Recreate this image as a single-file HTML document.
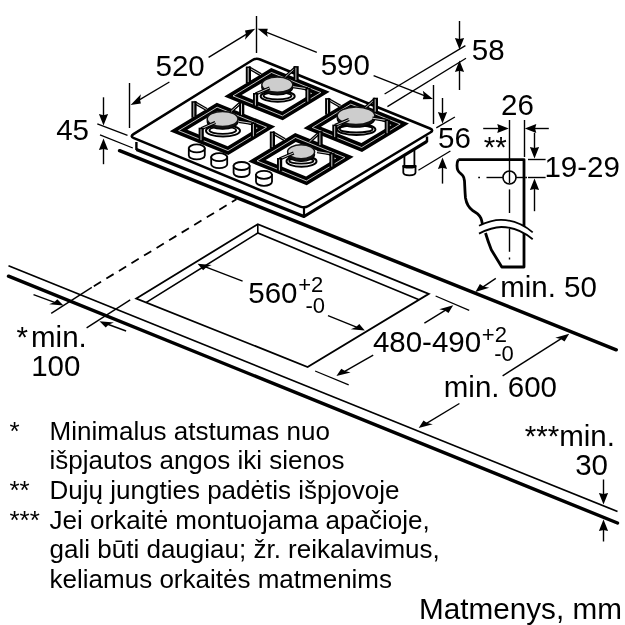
<!DOCTYPE html>
<html><head><meta charset="utf-8"><style>
html,body{margin:0;padding:0;background:#fff;}
svg{display:block;}
text{font-family:"Liberation Sans",sans-serif;fill:#000;}
body{-webkit-font-smoothing:antialiased;}
</style></head><body>
<svg style="will-change:transform" width="625" height="625" viewBox="0 0 625 625" stroke="#000" stroke-linecap="butt">
<rect width="625" height="625" fill="#fff" stroke="none"/>
<line x1="8.5" y1="265.8" x2="617.5" y2="511.5" stroke-width="1.7" />
<line x1="8.5" y1="276.2" x2="617.5" y2="523.0" stroke-width="3.4" stroke-linecap="round"/>
<line x1="119.6" y1="150.7" x2="616.2" y2="349.8" stroke-width="3.5" stroke-linecap="round"/>
<path d="M136.3,298.5 L257.8,224.2 L428.8,293.8 L307.6,367.0 Z" fill="none" stroke-width="1.8" />
<path d="M146.3,302.4 L257.8,233.0 L418.5,299.5" fill="none" stroke-width="1.6" />
<line x1="257.8" y1="224.2" x2="257.8" y2="233.0" stroke-width="1.6" />
<line x1="93.8" y1="286.2" x2="236.5" y2="199.2" stroke-width="1.8" stroke-dasharray="8.5 6.2"/>
<line x1="91.8" y1="287.3" x2="51.2" y2="313.3" stroke-width="1.4" />
<line x1="130.2" y1="299.8" x2="86.6" y2="327.8" stroke-width="1.4" />
<line x1="33.5" y1="294.6" x2="57.3" y2="303.3" stroke-width="1.4" />
<path d="M63.5,305.6 L57.3,299.3 L54.2,302.2 L49.1,304.3 Z" fill="#000" stroke="none"/>
<line x1="126.1" y1="331.0" x2="105.7" y2="323.5" stroke-width="1.4" />
<path d="M99.5,321.2 L113.9,322.5 L108.8,324.6 L105.7,327.5 Z" fill="#000" stroke="none"/>
<rect x="404.4" y="148" width="10" height="18" fill="#fff" stroke-width="1.8"/>
<path d="M403.3,166 L403.3,172.6 A6.1,2.8 0 0 0 415.5,172.6 L415.5,166 Z" fill="#fff" stroke-width="1.8"/>
<path d="M403.3,166 A6.1,1.6 0 0 0 415.5,166" fill="none" stroke-width="2"/>
<path d="M131,139 L304,206 L430,134 L427,141.4 L304,216.5 L136.4,149.6 Z" fill="#fff" stroke="none"/>
<path d="M136.4,149.6 L304.0,216.5 L427.0,141.4" fill="none" stroke-width="3.2" stroke-linejoin="round"/>
<line x1="136.4" y1="142.0" x2="136.4" y2="150.0" stroke-width="2.4" />
<line x1="427.0" y1="136.5" x2="427.0" y2="142.0" stroke-width="2.4" />
<line x1="304.0" y1="208.0" x2="304.0" y2="216.5" stroke-width="2.2" />
<path d="M133.9,138.2 Q129.7,136.5 133.5,134.1 L252.2,60.2 Q256.0,57.8 260.2,59.5 L430.0,128.5 Q434.2,130.2 430.3,132.5 L308.4,206.0 Q304.5,208.3 300.3,206.6 Z" fill="#fff" stroke-width="2.5" stroke-linejoin="round"/>
<path d="M169.8,131.3 L216.8,102.8 L275.3,126.5 L228.3,155.0 Z M187.3,129.8 L217.4,111.6 L257.8,128.0 L227.7,146.2 Z" fill="#000" fill-rule="evenodd" stroke="none"/>
<path d="M178.6,130.6 L217.1,107.2 L266.5,127.2 L228.0,150.6 Z" fill="none" stroke-width="0.75" stroke="#fff"/>
<line x1="194.0" y1="102.2" x2="206.5" y2="109.4" stroke-width="3.3"/>
<line x1="194.0" y1="102.2" x2="206.5" y2="109.4" stroke="#fff" stroke-width="0.8"/>
<rect x="191.4" y="101.2" width="5.2" height="16.6" fill="#000" stroke="none"/>
<line x1="193.8" y1="102.7" x2="193.8" y2="116.8" stroke="#fff" stroke-width="0.8"/>
<line x1="241.7" y1="101.8" x2="231.1" y2="111.4" stroke-width="3.3"/>
<line x1="241.7" y1="101.8" x2="231.1" y2="111.4" stroke="#fff" stroke-width="0.8"/>
<rect x="239.1" y="100.8" width="5.2" height="15.0" fill="#000" stroke="none"/>
<line x1="241.5" y1="102.3" x2="241.5" y2="114.8" stroke="#fff" stroke-width="0.8"/>
<path d="M224.2,96.6 L271.2,68.1 L329.7,91.8 L282.7,120.3 Z M241.7,95.1 L271.8,76.9 L312.2,93.3 L282.1,111.5 Z" fill="#000" fill-rule="evenodd" stroke="none"/>
<path d="M233.0,95.9 L271.5,72.5 L320.9,92.5 L282.4,115.9 Z" fill="none" stroke-width="0.75" stroke="#fff"/>
<line x1="248.4" y1="67.5" x2="260.9" y2="74.7" stroke-width="3.3"/>
<line x1="248.4" y1="67.5" x2="260.9" y2="74.7" stroke="#fff" stroke-width="0.8"/>
<rect x="245.8" y="66.5" width="5.2" height="16.6" fill="#000" stroke="none"/>
<line x1="248.2" y1="68.0" x2="248.2" y2="82.1" stroke="#fff" stroke-width="0.8"/>
<line x1="296.1" y1="67.1" x2="285.5" y2="76.7" stroke-width="3.3"/>
<line x1="296.1" y1="67.1" x2="285.5" y2="76.7" stroke="#fff" stroke-width="0.8"/>
<rect x="293.5" y="66.1" width="5.2" height="15.0" fill="#000" stroke="none"/>
<line x1="295.9" y1="67.6" x2="295.9" y2="80.1" stroke="#fff" stroke-width="0.8"/>
<path d="M303.5,128.2 L350.5,99.7 L409.0,123.4 L362.0,151.9 Z M321.0,126.7 L351.1,108.5 L391.5,124.9 L361.4,143.1 Z" fill="#000" fill-rule="evenodd" stroke="none"/>
<path d="M312.3,127.5 L350.8,104.1 L400.2,124.1 L361.7,147.5 Z" fill="none" stroke-width="0.75" stroke="#fff"/>
<line x1="327.7" y1="99.1" x2="340.2" y2="106.3" stroke-width="3.3"/>
<line x1="327.7" y1="99.1" x2="340.2" y2="106.3" stroke="#fff" stroke-width="0.8"/>
<rect x="325.1" y="98.1" width="5.2" height="16.6" fill="#000" stroke="none"/>
<line x1="327.5" y1="99.6" x2="327.5" y2="113.7" stroke="#fff" stroke-width="0.8"/>
<line x1="375.4" y1="98.7" x2="364.8" y2="108.3" stroke-width="3.3"/>
<line x1="375.4" y1="98.7" x2="364.8" y2="108.3" stroke="#fff" stroke-width="0.8"/>
<rect x="372.8" y="97.7" width="5.2" height="15.0" fill="#000" stroke="none"/>
<line x1="375.2" y1="99.2" x2="375.2" y2="111.7" stroke="#fff" stroke-width="0.8"/>
<path d="M248.2,161.6 L295.2,133.1 L353.7,156.8 L306.7,185.3 Z M265.7,160.1 L295.8,141.9 L336.2,158.3 L306.1,176.5 Z" fill="#000" fill-rule="evenodd" stroke="none"/>
<path d="M257.0,160.9 L295.5,137.5 L344.9,157.5 L306.4,180.9 Z" fill="none" stroke-width="0.75" stroke="#fff"/>
<line x1="272.4" y1="132.5" x2="284.9" y2="139.7" stroke-width="3.3"/>
<line x1="272.4" y1="132.5" x2="284.9" y2="139.7" stroke="#fff" stroke-width="0.8"/>
<rect x="269.8" y="131.5" width="5.2" height="16.6" fill="#000" stroke="none"/>
<line x1="272.2" y1="133.0" x2="272.2" y2="147.1" stroke="#fff" stroke-width="0.8"/>
<line x1="320.1" y1="132.1" x2="309.5" y2="141.7" stroke-width="3.3"/>
<line x1="320.1" y1="132.1" x2="309.5" y2="141.7" stroke="#fff" stroke-width="0.8"/>
<rect x="317.5" y="131.1" width="5.2" height="15.0" fill="#000" stroke="none"/>
<line x1="319.9" y1="132.6" x2="319.9" y2="145.1" stroke="#fff" stroke-width="0.8"/>
<ellipse cx="223.0" cy="130.8" rx="17" ry="5.8" fill="#fff" stroke-width="2"/>
<ellipse cx="222.8" cy="130.3" rx="13.4" ry="3.6" fill="#fff" stroke-width="1.8"/>
<ellipse cx="222.6" cy="121.6" rx="15.4" ry="7.6" fill="#111" stroke-width="1.2"/>
<ellipse cx="222.6" cy="119" rx="15.4" ry="7.6" fill="#cdcdcd" stroke="#111" stroke-width="1.5"/>
<ellipse cx="277.7" cy="96.3" rx="17" ry="5.4" fill="#fff" stroke-width="2"/>
<ellipse cx="277.5" cy="95.8" rx="14" ry="3.6" fill="#fff" stroke-width="1.8"/>
<ellipse cx="277.3" cy="87.3" rx="15.5" ry="7.6" fill="#111" stroke-width="1.2"/>
<ellipse cx="277.3" cy="84.7" rx="15.5" ry="7.6" fill="#cdcdcd" stroke="#111" stroke-width="1.5"/>
<ellipse cx="356.4" cy="129.4" rx="19" ry="5.6" fill="#fff" stroke-width="2"/>
<ellipse cx="356.2" cy="128.9" rx="16.4" ry="3.6" fill="#fff" stroke-width="1.8"/>
<ellipse cx="356" cy="118.4" rx="18.8" ry="8.8" fill="#111" stroke-width="1.2"/>
<ellipse cx="356" cy="115.8" rx="18.8" ry="8.8" fill="#cdcdcd" stroke="#111" stroke-width="1.5"/>
<ellipse cx="301.5" cy="161.3" rx="15" ry="5.4" fill="#fff" stroke-width="2"/>
<ellipse cx="301.3" cy="160.8" rx="12.2" ry="2.9" fill="#fff" stroke-width="1.8"/>
<ellipse cx="301.1" cy="154.4" rx="13.5" ry="7" fill="#111" stroke-width="1.2"/>
<ellipse cx="301.1" cy="151.8" rx="13.5" ry="7" fill="#cdcdcd" stroke="#111" stroke-width="1.5"/>
<line x1="201.2" y1="128.7" x2="215.3" y2="122.6" stroke-width="3.3"/>
<line x1="201.2" y1="128.7" x2="215.3" y2="122.6" stroke="#fff" stroke-width="0.8"/>
<rect x="198.6" y="127.7" width="5.2" height="13.5" fill="#000" stroke="none"/>
<line x1="201.0" y1="129.2" x2="201.0" y2="140.2" stroke="#fff" stroke-width="0.8"/>
<line x1="253.6" y1="123.6" x2="238.7" y2="121.3" stroke-width="3.3"/>
<line x1="253.6" y1="123.6" x2="238.7" y2="121.3" stroke="#fff" stroke-width="0.8"/>
<rect x="251.0" y="122.6" width="5.2" height="14.7" fill="#000" stroke="none"/>
<line x1="253.4" y1="124.1" x2="253.4" y2="136.3" stroke="#fff" stroke-width="0.8"/>
<line x1="255.6" y1="94.0" x2="269.7" y2="87.9" stroke-width="3.3"/>
<line x1="255.6" y1="94.0" x2="269.7" y2="87.9" stroke="#fff" stroke-width="0.8"/>
<rect x="253.0" y="93.0" width="5.2" height="13.5" fill="#000" stroke="none"/>
<line x1="255.4" y1="94.5" x2="255.4" y2="105.5" stroke="#fff" stroke-width="0.8"/>
<line x1="308.0" y1="88.9" x2="293.1" y2="86.6" stroke-width="3.3"/>
<line x1="308.0" y1="88.9" x2="293.1" y2="86.6" stroke="#fff" stroke-width="0.8"/>
<rect x="305.4" y="87.9" width="5.2" height="14.7" fill="#000" stroke="none"/>
<line x1="307.8" y1="89.4" x2="307.8" y2="101.6" stroke="#fff" stroke-width="0.8"/>
<line x1="334.9" y1="125.6" x2="349.0" y2="119.5" stroke-width="3.3"/>
<line x1="334.9" y1="125.6" x2="349.0" y2="119.5" stroke="#fff" stroke-width="0.8"/>
<rect x="332.3" y="124.6" width="5.2" height="13.5" fill="#000" stroke="none"/>
<line x1="334.7" y1="126.1" x2="334.7" y2="137.1" stroke="#fff" stroke-width="0.8"/>
<line x1="387.3" y1="120.5" x2="372.4" y2="118.2" stroke-width="3.3"/>
<line x1="387.3" y1="120.5" x2="372.4" y2="118.2" stroke="#fff" stroke-width="0.8"/>
<rect x="384.7" y="119.5" width="5.2" height="14.7" fill="#000" stroke="none"/>
<line x1="387.1" y1="121.0" x2="387.1" y2="133.2" stroke="#fff" stroke-width="0.8"/>
<line x1="279.6" y1="159.0" x2="293.7" y2="152.9" stroke-width="3.3"/>
<line x1="279.6" y1="159.0" x2="293.7" y2="152.9" stroke="#fff" stroke-width="0.8"/>
<rect x="277.0" y="158.0" width="5.2" height="13.5" fill="#000" stroke="none"/>
<line x1="279.4" y1="159.5" x2="279.4" y2="170.5" stroke="#fff" stroke-width="0.8"/>
<line x1="332.0" y1="153.9" x2="317.1" y2="151.6" stroke-width="3.3"/>
<line x1="332.0" y1="153.9" x2="317.1" y2="151.6" stroke="#fff" stroke-width="0.8"/>
<rect x="329.4" y="152.9" width="5.2" height="14.7" fill="#000" stroke="none"/>
<line x1="331.8" y1="154.4" x2="331.8" y2="166.6" stroke="#fff" stroke-width="0.8"/>
<path d="M188.8,148.4 L188.8,155.4 A8,4 0 0 0 204.8,155.4 L204.8,148.4 Z" fill="#fff" stroke-width="1.8"/>
<ellipse cx="196.8" cy="148.4" rx="8" ry="4" fill="#fff" stroke-width="1.8"/>
<path d="M211.20000000000002,157.20000000000002 L211.20000000000002,164.20000000000002 A8,4 0 0 0 227.20000000000002,164.20000000000002 L227.20000000000002,157.20000000000002 Z" fill="#fff" stroke-width="1.8"/>
<ellipse cx="219.20000000000002" cy="157.20000000000002" rx="8" ry="4" fill="#fff" stroke-width="1.8"/>
<path d="M233.60000000000002,166.0 L233.60000000000002,173.0 A8,4 0 0 0 249.60000000000002,173.0 L249.60000000000002,166.0 Z" fill="#fff" stroke-width="1.8"/>
<ellipse cx="241.60000000000002" cy="166.0" rx="8" ry="4" fill="#fff" stroke-width="1.8"/>
<path d="M256.0,174.8 L256.0,181.8 A8,4 0 0 0 272.0,181.8 L272.0,174.8 Z" fill="#fff" stroke-width="1.8"/>
<ellipse cx="264.0" cy="174.8" rx="8" ry="4" fill="#fff" stroke-width="1.8"/>
<line x1="97.3" y1="123.8" x2="127.5" y2="135.4" stroke-width="1.3" />
<line x1="100.0" y1="134.9" x2="132.8" y2="148.0" stroke-width="1.3" />
<line x1="103.5" y1="97.3" x2="103.5" y2="118.7" stroke-width="1.4" />
<path d="M103.5,125.6 L98.9,114.1 L103.5,115.2 L108.1,114.1 Z" fill="#000" stroke="none"/>
<line x1="103.5" y1="164.2" x2="103.5" y2="145.5" stroke-width="1.4" />
<path d="M103.5,138.6 L108.1,150.1 L103.5,148.9 L98.9,150.1 Z" fill="#000" stroke="none"/>
<text stroke="none" x="56.2" y="139.6" font-size="29.5" >45</text>
<line x1="129.5" y1="83.0" x2="129.5" y2="128.0" stroke-width="1.4" />
<line x1="256.5" y1="16.0" x2="256.5" y2="53.0" stroke-width="1.4" />
<line x1="169.4" y1="82.0" x2="136.8" y2="101.3" stroke-width="1.4" />
<path d="M130.6,105.0 L140.9,103.5 L139.9,99.5 L140.9,94.3 Z" fill="#000" stroke="none"/>
<line x1="208.6" y1="57.3" x2="249.1" y2="32.6" stroke-width="1.4" />
<path d="M255.2,28.8 L245.0,39.7 L246.0,34.4 L245.0,30.5 Z" fill="#000" stroke="none"/>
<text stroke="none" x="155.5" y="75.8" font-size="29.5" >520</text>
<line x1="316.8" y1="52.3" x2="263.7" y2="31.2" stroke-width="1.4" />
<path d="M257.6,28.8 L267.8,37.1 L266.8,32.5 L267.8,28.7 Z" fill="#000" stroke="none"/>
<line x1="373.6" y1="75.6" x2="426.9" y2="96.6" stroke-width="1.4" />
<path d="M433.0,99.0 L422.8,99.2 L423.8,95.4 L422.8,90.8 Z" fill="#000" stroke="none"/>
<line x1="433.5" y1="85.0" x2="433.5" y2="124.0" stroke-width="1.4" />
<text stroke="none" x="320.7" y="74.6" font-size="29.5" >590</text>
<line x1="384.6" y1="94.0" x2="465.4" y2="45.6" stroke-width="1.3" />
<line x1="387.4" y1="106.6" x2="466.0" y2="58.2" stroke-width="1.3" />
<line x1="459.5" y1="21.0" x2="459.5" y2="42.6" stroke-width="1.4" />
<path d="M459.5,49.5 L454.9,38.0 L459.5,39.1 L464.1,38.0 Z" fill="#000" stroke="none"/>
<line x1="459.5" y1="90.0" x2="459.5" y2="67.4" stroke-width="1.4" />
<path d="M459.5,60.5 L464.1,72.0 L459.5,70.8 L454.9,72.0 Z" fill="#000" stroke="none"/>
<text stroke="none" x="471.8" y="60.2" font-size="29.5" >58</text>
<line x1="436.3" y1="127.9" x2="454.9" y2="117.0" stroke-width="1.3" />
<line x1="418.4" y1="170.2" x2="450.4" y2="151.0" stroke-width="1.3" />
<line x1="442.5" y1="98.0" x2="442.5" y2="116.6" stroke-width="1.4" />
<path d="M442.5,123.5 L437.9,112.0 L442.5,113.2 L447.1,112.0 Z" fill="#000" stroke="none"/>
<line x1="442.5" y1="183.6" x2="442.5" y2="164.4" stroke-width="1.4" />
<path d="M442.5,157.5 L447.1,169.0 L442.5,167.8 L437.9,169.0 Z" fill="#000" stroke="none"/>
<text stroke="none" x="438.0" y="148.2" font-size="29.5" >56</text>
<path d="M458.3,159.6 L524,159.6 L524,267 L501.8,267 L491.3,249.8 C489,244 487,238 485.5,233" fill="none" stroke-width="2.8" stroke-linejoin="round"/>
<path d="M458.3,159.6 C456.5,163 456.8,168 458,170.5 C459,172.5 461.5,174 462.8,175.6 C464,177 464.3,179 464.5,181 C464.8,186 464.9,192 465.5,198 C466.5,204 469,208 473,210.8 C476,212.5 478.5,214 480.1,216.8 C481.5,219 482.2,222 482.6,226" fill="none" stroke-width="2.8" />
<path d="M479,225.7 C489,221 495,219.8 501.4,219.9 C512,220 524,225 532.7,232.4 L532.7,239.2 C524,232 512,227 501.4,227 C495,227 489,228.5 479,233.6 Z" fill="#fff" stroke="none"/>
<path d="M479,225.7 C489,221 495,219.8 501.4,219.9 C512,220 524,225 532.7,232.4" fill="none" stroke-width="1.8" />
<path d="M479,233.6 C489,228.5 495,227 501.4,227 C512,227 524,232 532.7,239.2" fill="none" stroke-width="1.8" />
<line x1="509.5" y1="120.0" x2="509.5" y2="183.0" stroke-width="1.4" />
<line x1="509.5" y1="189.4" x2="509.5" y2="213.0" stroke-width="1.4" />
<line x1="509.5" y1="229.0" x2="509.5" y2="251.8" stroke-width="1.4" />
<line x1="509.5" y1="257.5" x2="509.5" y2="259.5" stroke-width="1.4" />
<line x1="524.5" y1="120.0" x2="524.5" y2="157.0" stroke-width="1.4" />
<circle cx="509.5" cy="177.5" r="6.5" fill="none" stroke-width="1.6"/>
<line x1="478.2" y1="177.5" x2="480.0" y2="177.5" stroke-width="1.4" />
<line x1="486.5" y1="177.5" x2="503.0" y2="177.5" stroke-width="1.4" />
<line x1="516.0" y1="177.5" x2="523.0" y2="177.5" stroke-width="1.4" />
<line x1="525.2" y1="177.5" x2="527.0" y2="177.5" stroke-width="1.4" />
<line x1="483.2" y1="128.5" x2="501.9" y2="128.5" stroke-width="1.4" />
<path d="M508.8,128.5 L497.3,133.1 L498.4,128.5 L497.3,123.9 Z" fill="#000" stroke="none"/>
<line x1="548.8" y1="128.5" x2="531.7" y2="128.5" stroke-width="1.4" />
<path d="M524.8,128.5 L536.3,123.9 L535.1,128.5 L536.3,133.1 Z" fill="#000" stroke="none"/>
<line x1="528.0" y1="159.5" x2="545.6" y2="159.5" stroke-width="1.4" />
<line x1="528.0" y1="177.5" x2="545.6" y2="177.5" stroke-width="1.4" />
<line x1="534.5" y1="132.8" x2="534.5" y2="151.5" stroke-width="1.4" />
<path d="M534.5,158.4 L529.9,146.9 L534.5,148.1 L539.1,146.9 Z" fill="#000" stroke="none"/>
<line x1="534.5" y1="211.2" x2="534.5" y2="185.5" stroke-width="1.4" />
<path d="M534.5,178.6 L539.1,190.1 L534.5,188.9 L529.9,190.1 Z" fill="#000" stroke="none"/>
<text stroke="none" x="501.1" y="115.4" font-size="29.5" >26</text>
<text stroke="none" x="483.7" y="157.4" font-size="29.5" >**</text>
<text stroke="none" x="544.4" y="177.4" font-size="29.5" >19-29</text>
<line x1="242.6" y1="281.1" x2="203.5" y2="266.1" stroke-width="1.4" />
<path d="M197.6,263.8 L211.7,265.0 L206.4,267.2 L203.1,270.2 Z" fill="#000" stroke="none"/>
<line x1="328.0" y1="315.6" x2="359.0" y2="328.1" stroke-width="1.4" />
<path d="M364.8,330.5 L359.3,324.0 L356.0,327.0 L350.8,329.2 Z" fill="#000" stroke="none"/>
<text stroke="none" x="248.3" y="302.6" font-size="29.5" >560</text>
<text stroke="none" x="298.2" y="292" font-size="22" >+2</text>
<text stroke="none" x="305.4" y="313.2" font-size="22" >-0</text>
<line x1="435.6" y1="296.0" x2="469.2" y2="310.4" stroke-width="1.3" />
<line x1="315.1" y1="371.0" x2="348.7" y2="384.8" stroke-width="1.3" />
<line x1="424.4" y1="323.2" x2="447.6" y2="308.8" stroke-width="1.4" />
<path d="M453.2,305.3 L448.5,313.0 L444.8,310.5 L439.2,309.2 Z" fill="#000" stroke="none"/>
<line x1="373.2" y1="355.2" x2="342.1" y2="372.8" stroke-width="1.4" />
<path d="M336.4,376.0 L350.6,372.4 L345.0,371.1 L341.3,368.7 Z" fill="#000" stroke="none"/>
<text stroke="none" x="372.9" y="352.2" font-size="29.5" >480-490</text>
<text stroke="none" x="481.8" y="341.6" font-size="22" >+2</text>
<text stroke="none" x="494.2" y="361" font-size="22" >-0</text>
<line x1="495.8" y1="278.4" x2="480.9" y2="288.3" stroke-width="1.4" />
<path d="M475.4,292.0 L489.2,287.8 L483.6,286.5 L479.9,284.0 Z" fill="#000" stroke="none"/>
<text stroke="none" x="500.2" y="297.1" font-size="29.5" >min. 50</text>
<line x1="502.6" y1="375.8" x2="563.6" y2="337.2" stroke-width="1.4" />
<path d="M569.2,333.7 L564.5,341.4 L560.8,339.0 L555.3,337.7 Z" fill="#000" stroke="none"/>
<line x1="459.4" y1="403.5" x2="424.4" y2="424.6" stroke-width="1.4" />
<path d="M418.7,428.0 L432.8,424.2 L427.2,422.9 L423.5,420.5 Z" fill="#000" stroke="none"/>
<text stroke="none" x="443.8" y="397.4" font-size="29.5" >min. 600</text>
<text stroke="none" x="524.7" y="446" font-size="29.5" >***min.</text>
<text stroke="none" x="575.2" y="474.8" font-size="29.5" >30</text>
<line x1="603.5" y1="479.5" x2="603.5" y2="497.6" stroke-width="1.4" />
<path d="M603.5,504.5 L598.9,493.0 L603.5,494.1 L608.1,493.0 Z" fill="#000" stroke="none"/>
<line x1="603.5" y1="541.5" x2="603.5" y2="526.5" stroke-width="1.4" />
<path d="M603.5,519.6 L608.1,531.1 L603.5,530.0 L598.9,531.1 Z" fill="#000" stroke="none"/>
<text stroke="none" x="16.5" y="346.7" font-size="29.5" >*</text>
<text stroke="none" x="31.0" y="346.7" font-size="29.5" >min.</text>
<text stroke="none" x="31.2" y="375.9" font-size="29.5" >100</text>
<text stroke="none" x="9.5" y="439.6" font-size="26" >*</text>
<text stroke="none" x="49.6" y="439.6" font-size="26" >Minimalus atstumas nuo</text>
<text stroke="none" x="49.6" y="469.3" font-size="26" >išpjautos angos iki sienos</text>
<text stroke="none" x="9.5" y="499.0" font-size="26" >**</text>
<text stroke="none" x="49.6" y="499.0" font-size="26" >Dujų jungties padėtis išpjovoje</text>
<text stroke="none" x="9.5" y="528.7" font-size="26" >***</text>
<text stroke="none" x="49.6" y="528.7" font-size="26" >Jei orkaitė montuojama apačioje,</text>
<text stroke="none" x="49.6" y="558.4" font-size="26" >gali būti daugiau; žr. reikalavimus,</text>
<text stroke="none" x="49.6" y="588.1" font-size="26" >keliamus orkaitės matmenims</text>
<text stroke="none" x="419" y="618.5" font-size="29.7" >Matmenys, mm</text>
</svg></body></html>
